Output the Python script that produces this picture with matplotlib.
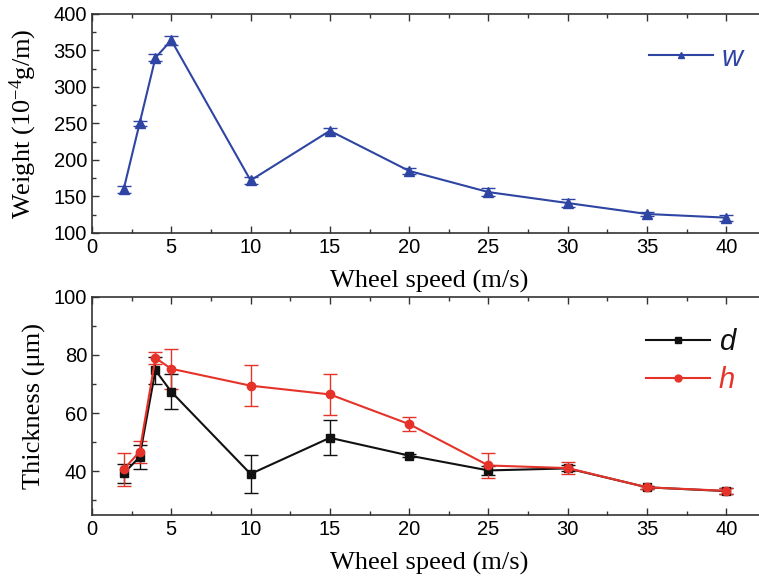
import matplotlib
matplotlib.use("Agg")
import matplotlib.pyplot as plt
from matplotlib.lines import Line2D
from matplotlib.ticker import MultipleLocator

plt.rcParams["font.family"] = ["Liberation Sans", "DejaVu Sans"]
plt.rcParams["mathtext.fontset"] = "custom"
plt.rcParams["mathtext.rm"] = "Liberation Serif"
plt.rcParams["mathtext.it"] = "Liberation Serif:italic"

speed = [2, 3, 4, 5, 10, 15, 20, 25, 30, 35, 40]

weight = [160, 250, 340, 364, 172, 240, 185, 156, 141, 126, 121]
weight_err = [5, 4, 5, 6, 5, 4, 4, 5, 5, 3, 4]

d_thick = [39.3, 44.9, 74.7, 67.3, 39.1, 51.5, 45.4, 40.3, 41.0, 34.5, 33.2]
d_err = [3.2, 4.2, 4.7, 6.0, 6.4, 6.0, 0.5, 1.5, 1.0, 0.5, 1.0]

h_thick = [40.7, 46.7, 78.9, 75.2, 69.4, 66.4, 56.2, 42.0, 41.1, 34.5, 33.3]
h_err = [5.7, 3.7, 2.2, 6.8, 7.0, 7.0, 2.4, 4.3, 2.0, 0.5, 1.0]

blue = "#2f45a3"
red = "#e5332a"
black = "#111111"

label_font = {"family": "Liberation Serif", "size": 19}

fig = plt.figure(figsize=(7.59, 5.81), dpi=100)
ax1 = fig.add_axes([0.1212, 0.599, 0.888, 0.377])
ax2 = fig.add_axes([0.1212, 0.1136, 0.888, 0.376])

ax1.errorbar(speed, weight, yerr=weight_err, color=blue, marker="^",
             markersize=7, linewidth=1.5, capsize=5, elinewidth=1,
             capthick=1)
ax2.errorbar(speed, d_thick, yerr=d_err, color=black, marker="s",
             markersize=5.5, linewidth=1.5, capsize=5, elinewidth=1,
             capthick=1)
ax2.errorbar(speed, h_thick, yerr=h_err, color=red, marker="o",
             markersize=6, linewidth=1.5, capsize=5, elinewidth=1,
             capthick=1)

for ax in (ax1, ax2):
    ax.set_xlim(0, 42.5)
    ax.xaxis.set_major_locator(MultipleLocator(5))
    ax.xaxis.set_minor_locator(MultipleLocator(2.5))
    ax.tick_params(which="both", direction="in", top=True, right=False,
                   labelsize=14.5, width=1, color="#333333")
    ax.tick_params(which="major", length=5)
    ax.tick_params(which="minor", length=3)
    for side in ax.spines.values():
        side.set_linewidth(1.2)
        side.set_color("#333333")
    ax.set_xlabel("Wheel speed (m/s)", fontdict=label_font)
    ax.xaxis.set_label_coords(0.5, -0.17)

ax1.set_ylim(100, 400)
ax1.yaxis.set_major_locator(MultipleLocator(50))
ax1.yaxis.set_minor_locator(MultipleLocator(25))
ax1.set_ylabel(r"Weight (10$^{\mathregular{-4}}$g/m)", fontdict=label_font)
ax1.yaxis.set_label_coords(-0.078, 0.5)

ax2.set_ylim(25, 100)
ax2.set_yticks([40, 60, 80, 100])
ax2.yaxis.set_minor_locator(MultipleLocator(10))
ax2.set_ylabel("Thickness (\u03bcm)", fontdict=label_font)
ax2.yaxis.set_label_coords(-0.068, 0.5)

leg_font = {"family": "Liberation Sans", "style": "italic", "size": 21}
h_w = Line2D([], [], color=blue, marker="^", markersize=5, linewidth=1.5)
leg1 = ax1.legend([h_w], ["w"], loc="upper left",
                  bbox_to_anchor=(0.855, 0.925),
                  bbox_transform=fig.transFigure, frameon=False,
                  prop=leg_font, borderpad=0, borderaxespad=0,
                  handlelength=2.2, handletextpad=0.3)
for t in leg1.get_texts():
    t.set_color(blue)

h_d = Line2D([], [], color=black, marker="s", markersize=4.5, linewidth=1.5)
h_h = Line2D([], [], color=red, marker="o", markersize=5, linewidth=1.5)
leg2 = ax2.legend([h_d, h_h], ["d", "h"], loc="upper left",
                  bbox_to_anchor=(0.851, 0.435),
                  bbox_transform=fig.transFigure, frameon=False,
                  prop=leg_font, borderpad=0, borderaxespad=0,
                  handlelength=2.2, handletextpad=0.3, labelspacing=0.35)
for t, c in zip(leg2.get_texts(), [black, red]):
    t.set_color(c)

fig.savefig("out.png", dpi=100)
